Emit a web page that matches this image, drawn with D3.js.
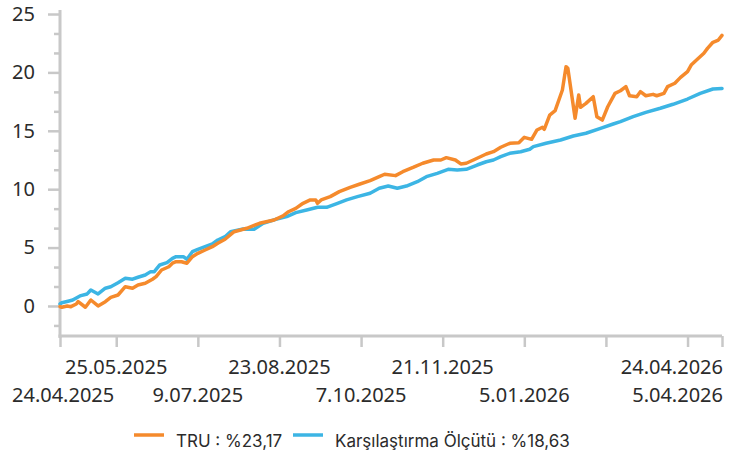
<!DOCTYPE html>
<html>
<head>
<meta charset="utf-8">
<script src="https://cdn.jsdelivr.net/npm/d3@7"></script>
<style>
  body { margin: 0; background: #fff; }
  .tick-label { font-family: "Noto Sans", sans-serif; font-size: 20px; fill: #2b2b2b; }
  .legend-label { font-family: Inter, sans-serif; font-size: 17px; fill: #2b2b2b; }
</style>
</head>
<body>
<svg id="chart"></svg>
<script>
// TRU fund, cumulative return (%)
var truDates = ["2025-04-24","2025-04-25","2025-04-28","2025-04-30","2025-05-03","2025-05-04","2025-05-08","2025-05-11",
    "2025-05-15","2025-05-19","2025-05-22","2025-05-26","2025-05-30","2025-06-03","2025-06-06","2025-06-10","2025-06-14",
    "2025-06-16","2025-06-19","2025-06-23","2025-06-25","2025-06-27","2025-06-30","2025-07-03","2025-07-06","2025-07-09",
    "2025-07-13","2025-07-17","2025-07-20","2025-07-24","2025-07-29","2025-08-05","2025-08-12","2025-08-20","2025-08-25",
    "2025-08-28","2025-09-01","2025-09-05","2025-09-09","2025-09-12","2025-09-13","2025-09-15","2025-09-20","2025-09-25",
    "2025-10-01","2025-10-06","2025-10-12","2025-10-17","2025-10-20","2025-10-26","2025-10-30","2025-11-05","2025-11-10",
    "2025-11-16","2025-11-20","2025-11-23","2025-11-28","2025-12-01","2025-12-04","2025-12-10","2025-12-15","2025-12-19",
    "2025-12-23","2025-12-28","2026-01-02","2026-01-05","2026-01-09","2026-01-12","2026-01-15","2026-01-16","2026-01-19",
    "2026-01-22","2026-01-26","2026-01-28","2026-01-29","2026-02-02","2026-02-04","2026-02-05","2026-02-08","2026-02-12",
    "2026-02-14","2026-02-17","2026-02-20","2026-02-24","2026-02-27","2026-03-02","2026-03-04","2026-03-08","2026-03-10",
    "2026-03-13","2026-03-17","2026-03-19","2026-03-23","2026-03-25","2026-03-29","2026-04-01","2026-04-05","2026-04-07",
    "2026-04-11","2026-04-14","2026-04-16","2026-04-19","2026-04-22","2026-04-24"];
var truValues = [-0.05, -0.11, 0.0, -0.06, 0.17, 0.37, -0.11, 0.51,
    0.0, 0.37, 0.74, 0.94, 1.65, 1.52, 1.80, 1.94, 2.29,
    2.51, 3.08, 3.36, 3.66, 3.79, 3.79, 3.66, 4.22, 4.51,
    4.79, 5.08, 5.37, 5.71, 6.36, 6.65, 7.08, 7.36, 7.71,
    8.07, 8.36, 8.79, 9.08, 9.08, 8.79, 9.08, 9.36, 9.79,
    10.16, 10.42, 10.73, 11.07, 11.28, 11.16, 11.50, 11.88, 12.22,
    12.50, 12.50, 12.70, 12.50, 12.16, 12.22, 12.65, 13.01, 13.21,
    13.59, 13.93, 13.98, 14.44, 14.27, 15.07, 15.30, 15.13, 16.35,
    16.72, 18.49, 20.49, 20.35, 16.07, 18.07, 17.01, 17.35, 17.92,
    16.21, 15.92, 17.06, 18.21, 18.43, 18.78, 18.0, 17.92, 18.35,
    18.0, 18.12, 18.0, 18.21, 18.78, 19.07, 19.55, 20.06, 20.63,
    21.21, 21.64, 22.06, 22.58, 22.77, 23.17];

// Karşılaştırma Ölçütü (benchmark)
var benchDates = ["2025-04-24","2025-04-25","2025-04-29","2025-05-01","2025-05-05","2025-05-09","2025-05-11","2025-05-15",
    "2025-05-19","2025-05-22","2025-05-26","2025-05-30","2025-06-03","2025-06-06","2025-06-10","2025-06-13","2025-06-15",
    "2025-06-18","2025-06-22","2025-06-25","2025-06-27","2025-07-01","2025-07-03","2025-07-06","2025-07-09","2025-07-13",
    "2025-07-17","2025-07-20","2025-07-24","2025-07-27","2025-08-03","2025-08-09","2025-08-14","2025-08-21","2025-08-27",
    "2025-09-01","2025-09-07","2025-09-13","2025-09-18","2025-09-24","2025-09-29","2025-10-05","2025-10-12","2025-10-17",
    "2025-10-22","2025-10-27","2025-11-01","2025-11-07","2025-11-12","2025-11-18","2025-11-24","2025-11-29","2025-12-04",
    "2025-12-10","2025-12-15","2025-12-19","2025-12-23","2025-12-28","2026-01-03","2026-01-08","2026-01-10","2026-01-17",
    "2026-01-25","2026-02-01","2026-02-08","2026-02-16","2026-02-23","2026-02-27","2026-03-06","2026-03-13","2026-03-21",
    "2026-03-28","2026-04-05","2026-04-12","2026-04-19","2026-04-24"];
var benchValues = [0.17, 0.28, 0.43, 0.51, 0.86, 1.03, 1.37, 1.03,
    1.52, 1.65, 1.99, 2.37, 2.29, 2.46, 2.65, 2.94, 2.94,
    3.51, 3.71, 4.08, 4.22, 4.22, 4.00, 4.65, 4.85, 5.08,
    5.31, 5.65, 5.93, 6.36, 6.59, 6.57, 7.08, 7.42, 7.65,
    7.99, 8.22, 8.45, 8.45, 8.79, 9.08, 9.36, 9.65, 10.08,
    10.27, 10.08, 10.27, 10.64, 11.07, 11.36, 11.70, 11.64, 11.70,
    12.07, 12.35, 12.50, 12.78, 13.07, 13.21, 13.42, 13.64, 13.93,
    14.21, 14.55, 14.79, 15.21, 15.58, 15.78, 16.21, 16.58, 16.93,
    17.27, 17.72, 18.21, 18.58, 18.63];

var xTickDates = ["2025-04-24","2025-05-25","2025-07-09","2025-08-23","2025-10-07","2025-11-21",
    "2026-01-05","2026-02-19","2026-04-05","2026-04-24"];
var xTickLabels = ["24.04.2025","25.05.2025","9.07.2025","23.08.2025","7.10.2025","21.11.2025",
    "5.01.2026","","5.04.2026","24.04.2026"];
var yTicks = [0, 5, 10, 15, 20, 25];
var seriesNames = ["TRU : %23,17", "Karşılaştırma Ölçütü : %18,63"];
var seriesColors = ["#f58a2c", "#3cb5e4"];

var width = 729,
    height = 455;
var parse = d3.timeParse("%Y-%m-%d");

var svg = d3.select("#chart")
    .attr("width", width)
    .attr("height", height);

var x = d3.scaleTime()
    .domain([parse("2025-04-24"), parse("2026-04-24")])
    .range([60, 722]);
var y = d3.scaleLinear()
    .domain([-2.7, 25.3])
    .range([337.5, 10.5]);

var axisColor = "#c8c8c8";

// y axis: major ticks + minor ticks every 5/3
var yAxis = svg.append("g").attr("transform", "translate(60,0)")
    .call(d3.axisLeft(y).tickValues(yTicks).tickSize(12).tickPadding(13).tickFormat(d3.format("d")));
var minor = d3.range(-1, 16).map(function (i) { return i * 5 / 3; })
    .filter(function (v) { return Math.abs(v / 5 - Math.round(v / 5)) > 1e-6; });
svg.append("g").attr("transform", "translate(60,0)")
    .call(d3.axisLeft(y).tickValues(minor).tickSize(6).tickFormat(""))
    .select(".domain").remove();

// x axis
var xAxis = svg.append("g").attr("transform", "translate(0,336)")
    .call(d3.axisBottom(x).tickValues(xTickDates.map(parse)).tickSize(11).tickFormat(""));

svg.selectAll(".domain").attr("stroke", axisColor).attr("stroke-width", 3);
svg.selectAll(".tick line").attr("stroke", axisColor).attr("stroke-width", 2.5);
yAxis.selectAll("text").attr("class", "tick-label").attr("font-family", null).attr("font-size", null).attr("fill", null);
yAxis.select(".domain").attr("d", "M0,10V338");
xAxis.select(".domain").attr("d", "M58.5,0H722");

// x tick labels on two rows; keep them inside the plot width
xTickDates.forEach(function (d, i) {
    if (!xTickLabels[i]) return;
    var px = x(parse(d)),
        row = (i % 2 === 1 && i < 9) || i === 9 ? 0 : 1;
    var t = svg.append("text")
        .attr("class", "tick-label")
        .attr("x", px)
        .attr("y", row === 0 ? 374 : 402)
        .attr("text-anchor", "middle")
        .text(xTickLabels[i]);
    var bb = t.node().getBBox();
    if (bb.x < 12) t.attr("text-anchor", "start").attr("x", 12);
    if (bb.x + bb.width > 723) t.attr("text-anchor", "end").attr("x", 723);
});

// lines
var line = d3.line()
    .x(function (d) { return x(d[0]); })
    .y(function (d) { return y(d[1]); });

var series = [
    d3.zip(benchDates.map(parse), benchValues),
    d3.zip(truDates.map(parse), truValues)
];
var colors = [seriesColors[1], seriesColors[0]];

series.forEach(function (s, i) {
    svg.append("path")
        .datum(s)
        .attr("fill", "none")
        .attr("stroke", colors[i])
        .attr("stroke-width", 3.5)
        .attr("stroke-linejoin", "round")
        .attr("stroke-linecap", "round")
        .attr("d", line);
});

// legend
var legendX = [134, 293];
seriesNames.forEach(function (name, i) {
    var g = svg.append("g").attr("transform", "translate(" + legendX[i] + ",435)");
    g.append("line")
        .attr("x1", 0).attr("x2", 30)
        .attr("stroke", seriesColors[i])
        .attr("stroke-width", 3.5);
    g.append("text")
        .attr("class", "legend-label")
        .attr("x", 42)
        .attr("y", 12)
        .text(name);
});
</script>
</body>
</html>
